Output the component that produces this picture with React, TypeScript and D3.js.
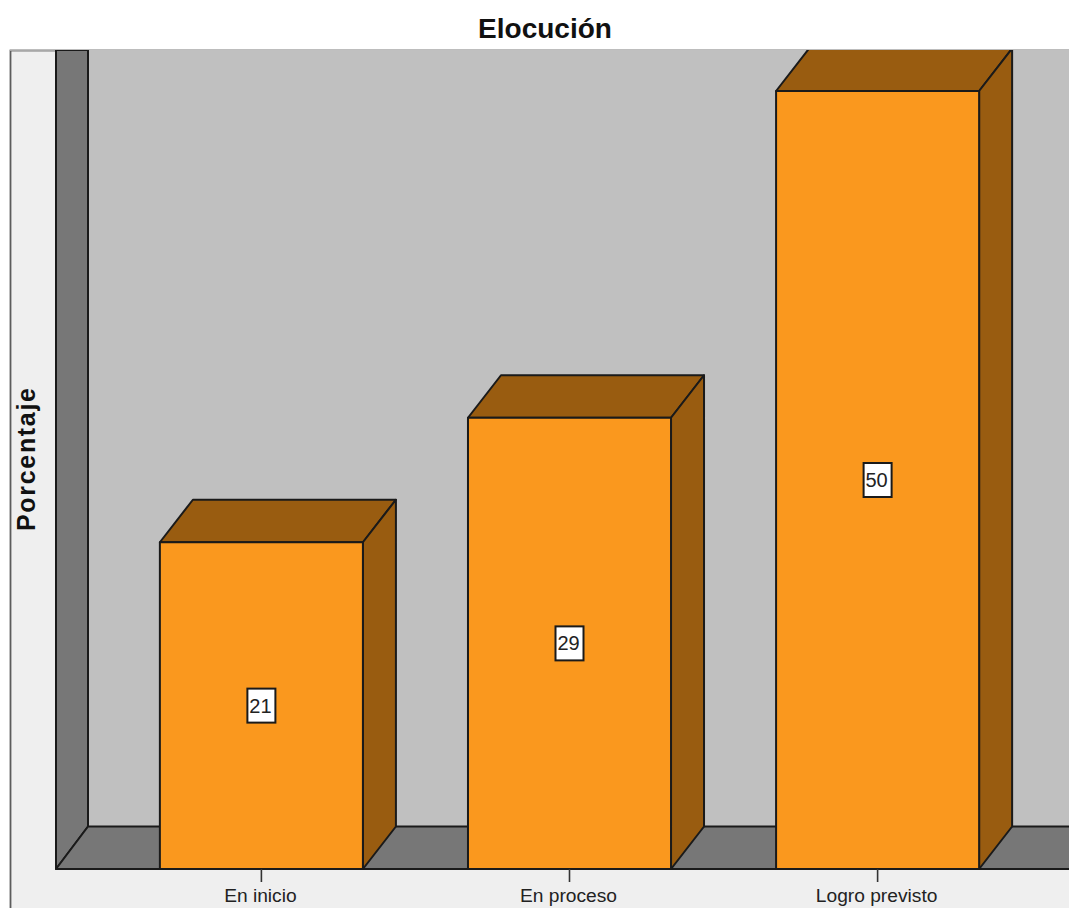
import React from "react";
import * as d3 from "d3";

const chartTitle = "Elocución";
const axisTitle = "Porcentaje";
const categories = ["En inicio", "En proceso", "Logro previsto"];
const percentages = [21, 29, 50];

const WIDTH = 1069;
const HEIGHT = 908;
const FONT = "'Liberation Sans', Arial, sans-serif";
const FRONT = "#fa981e";
const SIDE = "#995c10";
const WALL = "#777777";
const BACK = "#c0c0c0";
const PANEL = "#efefef";
const INK = "#1a1a1a";

// Oblique offset of the 3D extrusion
const DX = 33;
const DY = -42.5;
const WALL_DX = 32;

const plot = { left: 56, top: 50, baseline: 869, right: WIDTH };

const x = d3
  .scaleBand<string>()
  .domain(categories)
  .range([107.5, 1031.5])
  .paddingInner(0.341)
  .paddingOuter(0.17);

const y = d3.scaleLinear().domain([0, 50]).range([plot.baseline, 91]);

const poly = (pts: [number, number][]) => d3.line()(pts) + "Z";

export default function App() {
  const backLeft = plot.left + WALL_DX;
  const floorY = plot.baseline + DY;
  return (
    <svg
      width={WIDTH}
      height={HEIGHT}
      viewBox={`0 0 ${WIDTH} ${HEIGHT}`}
      style={{ position: "fixed", left: 0, top: 0, display: "block", background: "#fff" }}
    >
      <defs>
        <clipPath id="plot-clip">
          <rect x={0} y={plot.top} width={WIDTH} height={HEIGHT - plot.top} />
        </clipPath>
      </defs>

      <rect x={10.5} y={50.5} width={WIDTH} height={HEIGHT} fill={PANEL} stroke="#5c5c5c" strokeWidth={1.8} />
      <line x1={10} x2={WIDTH} y1={50.5} y2={50.5} stroke="#a8a8a8" strokeWidth={1.2} />

      <text x={545} y={38} textAnchor="middle" fontFamily={FONT} fontWeight={700} fontSize={28} fill="#111">
        {chartTitle}
      </text>
      <text
        transform="translate(35,459.5) rotate(-90)"
        textAnchor="middle"
        fontFamily={FONT}
        fontWeight={700}
        fontSize={25}
        textLength={143}
        lengthAdjust="spacing"
        fill="#111"
      >
        {axisTitle}
      </text>

      <g clipPath="url(#plot-clip)" strokeLinejoin="round">
        {/* Back wall, side wall and floor */}
        <rect x={backLeft} y={plot.top} width={WIDTH - backLeft} height={floorY - plot.top} fill={BACK} />
        <path
          d={poly([
            [plot.left, plot.top],
            [backLeft, plot.top],
            [backLeft, floorY],
            [plot.left, plot.baseline],
          ])}
          fill={WALL}
          stroke={INK}
          strokeWidth={2}
        />
        <path
          d={poly([
            [plot.left, plot.baseline],
            [backLeft, floorY],
            [WIDTH + 5, floorY],
            [WIDTH + 5, plot.baseline],
          ])}
          fill={WALL}
          stroke={INK}
          strokeWidth={2}
        />

        {categories.map((c, i) => {
          const x0 = x(c)!;
          const x1 = x0 + x.bandwidth();
          const top = y(percentages[i]);
          const base = y(0);
          return (
            <g key={c} stroke={INK} strokeWidth={2}>
              <path
                d={poly([
                  [x0, top],
                  [x0 + DX, top + DY],
                  [x1 + DX, top + DY],
                  [x1, top],
                ])}
                fill={SIDE}
              />
              <path
                d={poly([
                  [x1, top],
                  [x1 + DX, top + DY],
                  [x1 + DX, base + DY],
                  [x1, base],
                ])}
                fill={SIDE}
              />
              <rect x={x0} y={top} width={x.bandwidth()} height={base - top} fill={FRONT} />
            </g>
          );
        })}
      </g>

      {categories.map((c, i) => {
        const cx = x(c)! + x.bandwidth() / 2;
        const midY = (y(percentages[i]) + y(0)) / 2;
        return (
          <g key={c}>
            <line x1={cx} x2={cx} y1={plot.baseline} y2={plot.baseline + 13} stroke="#333" strokeWidth={1.6} />
            <text x={cx - 1} y={902} textAnchor="middle" fontFamily={FONT} fontSize={19.2} fill="#222">
              {c}
            </text>
            <rect x={cx - 14} y={midY - 17} width={28} height={34} fill="#fff" stroke={INK} strokeWidth={2} />
            <text x={cx - 1} y={midY + 7} textAnchor="middle" fontFamily={FONT} fontSize={20} fill="#222">
              {percentages[i]}
            </text>
          </g>
        );
      })}
    </svg>
  );
}
